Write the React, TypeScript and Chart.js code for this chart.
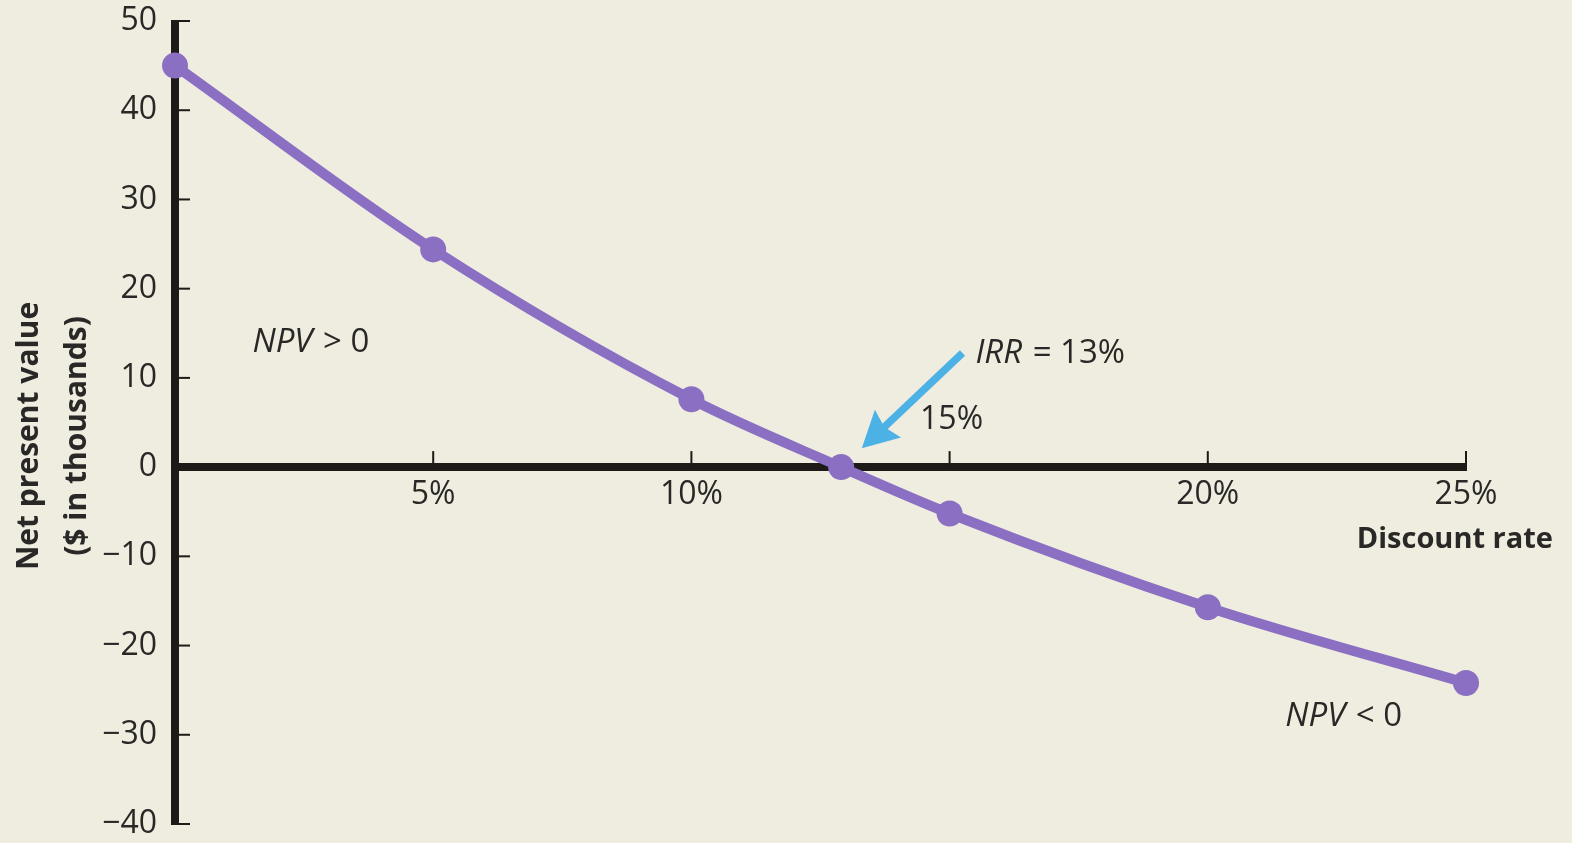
import React, { useEffect, useRef } from 'react';
import { Chart, registerables } from 'chart.js';

Chart.register(...registerables);

// ---- Data ----
const discountRates = [0, 5, 10, 12.9, 15, 20, 25];
const npvValues = [45, 24.4, 7.6, 0, -5.2, -15.7, -24.2];
const xTickValues = [5, 10, 15, 20, 25];
const xTickLabels = ['5%', '10%', '15%', '20%', '25%'];
const xTickAbove = [15];
const yTickValues = [50, 40, 30, 20, 10, 0, -10, -20, -30, -40];
const yTickLabels = ['50', '40', '30', '20', '10', '0', '\u221210', '\u221220', '\u221230', '\u221240'];
const yTitleLines = ['Net present value', '($ in thousands)'];
const xTitle = 'Discount rate';
const npvPositiveLabel = { italic: 'NPV', rest: ' > 0', x: 1.5, y: 14 };
const npvNegativeLabel = { italic: 'NPV', rest: ' < 0', x: 21.5, y: -28 };
const irrLabel = { italic: 'IRR', rest: ' = 13%', x: 15.5, y: 12.7 };
const arrowFrom = { x: 15.25, y: 12.8 };
const arrowTo = { x: 13.3, y: 2.1 };

const BG = '#efece0';
const TEXT = '#2a2826';
const AXIS = '#1d1a17';
const PURPLE = '#8a6fc2';
const BLUE = '#4cb2e6';
const FONT = '"Open Sans", "Noto Sans", sans-serif';

const drawMixed = (ctx: CanvasRenderingContext2D, italic: string, rest: string, x: number, y: number, size: number) => {
  ctx.save();
  ctx.fillStyle = TEXT;
  ctx.textBaseline = 'middle';
  ctx.textAlign = 'left';
  ctx.font = `italic ${size}px ${FONT}`;
  ctx.fillText(italic, x, y);
  const w = ctx.measureText(italic).width;
  ctx.font = `${size}px ${FONT}`;
  ctx.fillText(rest, x + w + 2, y);
  ctx.restore();
};

const customAxes = {
  id: 'customAxes',
  beforeDatasetsDraw(chart: any) {
    const { ctx } = chart;
    const xs = chart.scales.x;
    const ys = chart.scales.y;
    const x0 = xs.getPixelForValue(0);
    const y0 = ys.getPixelForValue(0);
    ctx.save();
    ctx.strokeStyle = AXIS;
    ctx.lineCap = 'butt';
    // y axis
    ctx.lineWidth = 8;
    ctx.beginPath();
    ctx.moveTo(x0, ys.getPixelForValue(50) - 1);
    ctx.lineTo(x0, ys.getPixelForValue(-40) + 1);
    ctx.stroke();
    ctx.lineWidth = 2;
    yTickValues.forEach((v) => {
      const py = ys.getPixelForValue(v);
      ctx.beginPath();
      ctx.moveTo(x0, py);
      ctx.lineTo(x0 + 15, py);
      ctx.stroke();
    });
    // x axis
    ctx.lineWidth = 8;
    ctx.beginPath();
    ctx.moveTo(x0, y0);
    ctx.lineTo(xs.getPixelForValue(25) + 1, y0);
    ctx.stroke();
    ctx.lineWidth = 2;
    xTickValues.forEach((v) => {
      const px = xs.getPixelForValue(v);
      ctx.beginPath();
      ctx.moveTo(px, y0);
      ctx.lineTo(px, y0 - 16);
      ctx.stroke();
    });
    ctx.restore();
  },
  afterDatasetsDraw(chart: any) {
    const { ctx } = chart;
    const xs = chart.scales.x;
    const ys = chart.scales.y;
    // arrow
    const fx = xs.getPixelForValue(arrowFrom.x);
    const fy = ys.getPixelForValue(arrowFrom.y);
    const tx = xs.getPixelForValue(arrowTo.x);
    const ty = ys.getPixelForValue(arrowTo.y);
    const ang = Math.atan2(ty - fy, tx - fx);
    const headLen = 36;
    const headHalf = 19;
    const bx = tx - headLen * Math.cos(ang);
    const by = ty - headLen * Math.sin(ang);
    ctx.save();
    ctx.strokeStyle = BLUE;
    ctx.fillStyle = BLUE;
    ctx.lineWidth = 7.5;
    ctx.beginPath();
    ctx.moveTo(fx, fy);
    ctx.lineTo(bx + 10 * Math.cos(ang), by + 10 * Math.sin(ang));
    ctx.stroke();
    ctx.beginPath();
    ctx.moveTo(tx, ty);
    ctx.lineTo(bx + headHalf * Math.sin(ang), by - headHalf * Math.cos(ang));
    ctx.lineTo(bx + 5 * Math.cos(ang), by + 5 * Math.sin(ang));
    ctx.lineTo(bx - headHalf * Math.sin(ang), by + headHalf * Math.cos(ang));
    ctx.closePath();
    ctx.fill();
    ctx.restore();
  },
  afterDraw(chart: any) {
    const { ctx } = chart;
    const xs = chart.scales.x;
    const ys = chart.scales.y;
    const y0 = ys.getPixelForValue(0);
    ctx.save();
    ctx.fillStyle = TEXT;
    // x tick labels placed above the axis
    ctx.font = `32px ${FONT}`;
    ctx.textAlign = 'center';
    ctx.textBaseline = 'middle';
    xTickValues.forEach((v, i) => {
      if (xTickAbove.includes(v)) {
        ctx.fillText(xTickLabels[i], xs.getPixelForValue(v) + 2, y0 - 47);
      }
    });
    // x title
    ctx.font = `bold 29px ${FONT}`;
    ctx.textAlign = 'right';
    ctx.fillText(xTitle, 1553, y0 + 73);
    // y title
    ctx.font = `bold 30px ${FONT}`;
    ctx.save();
    ctx.translate(0, 436);
    ctx.rotate(-Math.PI / 2);
    ctx.textAlign = 'center';
    ctx.fillText(yTitleLines[0], 0, 29);
    ctx.fillText(yTitleLines[1], 0, 77);
    ctx.restore();
    ctx.restore();
    // annotations
    drawMixed(ctx, npvPositiveLabel.italic, npvPositiveLabel.rest, xs.getPixelForValue(npvPositiveLabel.x), ys.getPixelForValue(npvPositiveLabel.y), 33);
    drawMixed(ctx, irrLabel.italic, irrLabel.rest, xs.getPixelForValue(irrLabel.x), ys.getPixelForValue(irrLabel.y), 33);
    drawMixed(ctx, npvNegativeLabel.italic, npvNegativeLabel.rest, xs.getPixelForValue(npvNegativeLabel.x), ys.getPixelForValue(npvNegativeLabel.y), 33);
  },
};

const bgPlugin = {
  id: 'bg',
  beforeDraw(chart: any) {
    const { ctx, width, height } = chart;
    ctx.save();
    ctx.fillStyle = BG;
    ctx.fillRect(0, 0, width, height);
    ctx.restore();
  },
};

export default function App() {
  const ref = useRef<HTMLCanvasElement | null>(null);
  useEffect(() => {
    if (!ref.current) return;
    const chart = new Chart(ref.current, {
      type: 'line',
      data: {
        datasets: [
          {
            data: discountRates.map((r, i) => ({ x: r, y: npvValues[i] })),
            borderColor: PURPLE,
            backgroundColor: PURPLE,
            borderWidth: 10,
            pointRadius: 13,
            pointHoverRadius: 13,
            pointBorderWidth: 0,
            cubicInterpolationMode: 'monotone',
            clip: false as any,
            fill: false,
          },
        ],
      },
      options: {
        responsive: false,
        animation: false,
        events: [],
        layout: { padding: { left: 0, right: 106, top: 21, bottom: 19 } },
        plugins: { legend: { display: false }, tooltip: { enabled: false }, title: { display: false } },
        scales: {
          x: {
            type: 'linear',
            min: 0,
            max: 25,
            position: { y: 0 } as any,
            grid: { display: false, drawTicks: false },
            border: { display: false },
            afterBuildTicks: (s: any) => {
              s.ticks = xTickValues.map((v) => ({ value: v }));
            },
            afterFit: (s: any) => {
              s.paddingLeft = 0;
              s.paddingRight = 0;
              s.paddingTop = 0;
              s.paddingBottom = 0;
            },
            ticks: {
              padding: 9,
              color: TEXT,
              font: { family: FONT, size: 32 },
              maxRotation: 0,
              autoSkip: false,
              callback: (v: any) => {
                const i = xTickValues.indexOf(Number(v));
                if (i < 0 || xTickAbove.includes(Number(v))) return '';
                return xTickLabels[i];
              },
            },
          },
          y: {
            type: 'linear',
            min: -40,
            max: 50,
            position: 'left',
            grid: { display: false, drawTicks: false },
            border: { display: false },
            afterFit: (s: any) => {
              s.width = 175;
              s.paddingTop = 0;
              s.paddingBottom = 0;
              s.paddingLeft = 0;
              s.paddingRight = 0;
            },
            afterBuildTicks: (s: any) => {
              s.ticks = yTickValues.map((v) => ({ value: v }));
            },
            ticks: {
              padding: 18,
              color: TEXT,
              font: { family: FONT, size: 32 },
              autoSkip: false,
              callback: (v: any) => {
                const i = yTickValues.indexOf(Number(v));
                return i < 0 ? '' : yTickLabels[i];
              },
            },
          },
        },
      },
      plugins: [bgPlugin, customAxes],
    } as any);
    return () => chart.destroy();
  }, []);
  return (
    <div style={{ position: 'fixed', left: 0, top: 0, width: 1572, height: 843, background: BG }}>
      <canvas ref={ref} width={1572} height={843} style={{ display: 'block', width: 1572, height: 843 }} />
    </div>
  );
}
